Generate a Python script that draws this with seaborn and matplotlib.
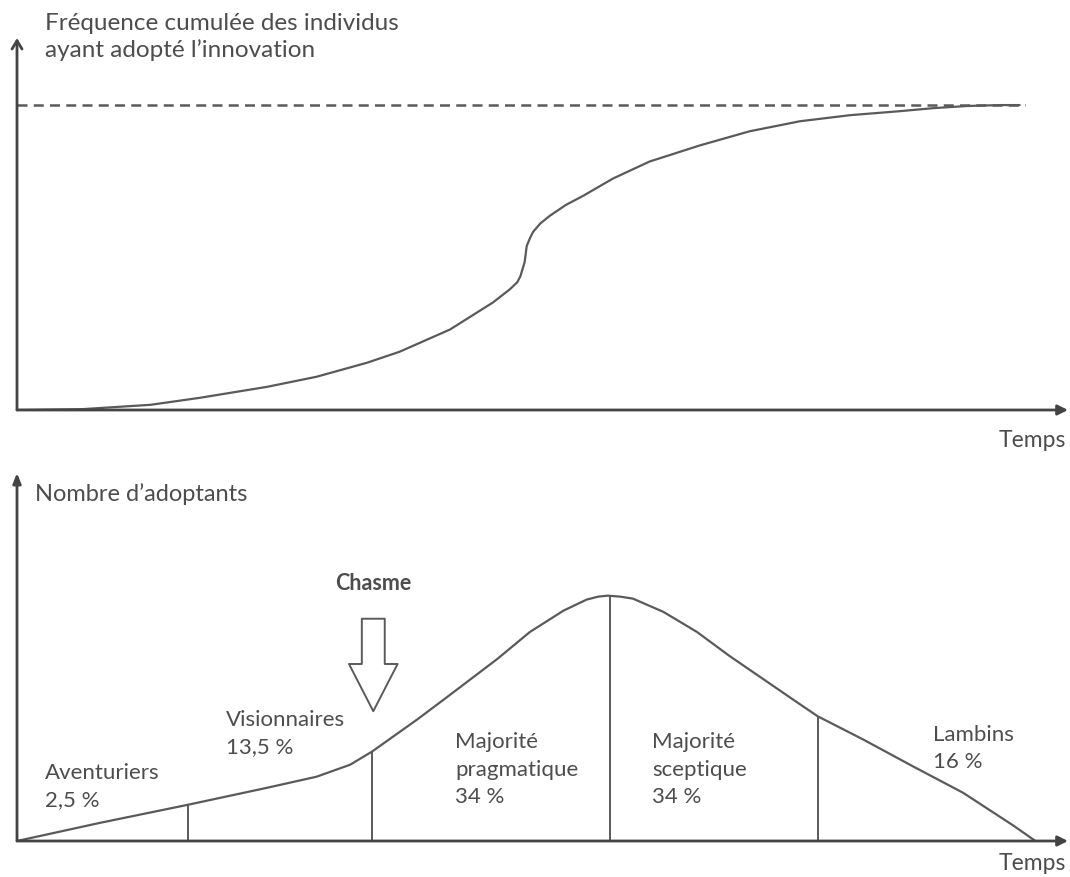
import numpy as np
import pandas as pd
import seaborn as sns
import matplotlib.pyplot as plt

# courbe cumulée (temps, fréquence en % du total)
temps_cumul = [0, 6.3, 12.7, 17.4, 23.8, 28.5, 33.3, 36.4, 41.2, 45.3, 46.9, 47.6,
               47.9, 48.1, 48.3, 48.5, 48.8, 49.1, 49.8, 50.7, 52.2, 53.9, 56.7,
               60.2, 65.0, 69.7, 74.5, 79.3, 84.0, 87.2, 90.4, 93.5, 95.4]
freq_cumul = [0, 0.3, 1.7, 4.0, 7.6, 10.9, 15.5, 19.1, 26.4, 35.3, 39.6, 41.9,
              43.9, 46.2, 48.5, 53.8, 56.3, 58.4, 61.2, 63.7, 67.2, 70.3, 75.9,
              81.5, 86.8, 91.4, 94.7, 96.7, 98.0, 99.0, 99.7, 100, 100]

# courbe des adoptants (temps, nombre relatif au pic)
temps_adopt = [0, 7.9, 16.3, 23.8, 28.5, 31.7, 33.8, 35.8, 38.1, 40.9, 45.7, 48.8,
               52.0, 54.2, 55.3, 56.2, 57.4, 58.6, 61.5, 64.7, 67.8, 71.0, 74.2,
               76.2, 80.5, 85.3, 90.0, 94.8, 96.9]
nb_adopt = [0, 7.4, 14.8, 21.7, 26.2, 31.1, 36.5, 42.6, 49.6, 58.6, 74.2, 85.2,
            93.9, 98.4, 99.6, 100, 99.6, 98.8, 93.4, 85.2, 75.4, 66.0, 56.6,
            50.8, 41.4, 30.3, 19.7, 6.3, 0]

# séparations entre catégories
sep_temps = [16.3, 33.8, 56.4, 76.2]
sep_haut = [14.8, 36.5, 100, 50.8]

categories = ["Aventuriers\n2,5 %", "Visionnaires\n13,5 %",
              "Majorité\npragmatique\n34 %", "Majorité\nsceptique\n34 %",
              "Lambins\n16 %"]
cat_x = [2.7, 19.9, 41.7, 60.4, 87.2]
cat_y = [22.1, 43.9, 29.1, 29.1, 37.7]

sns.set_theme(style='white')
plt.rcParams['font.family'] = ['Lato', 'DejaVu Sans']

gris = '#5a5a5a'
texte = '#4d4d4d'
W, H = 1070, 877

fig = plt.figure(figsize=(10.7, 8.77), dpi=100)

def px_axes(x0, x1, ybas, yhaut):
    return fig.add_axes([x0 / W, (H - ybas) / H, (x1 - x0) / W, (ybas - yhaut) / H])

def axes_fleches(ax, style_y):
    for s in ax.spines.values():
        s.set_visible(False)
    ax.set_xticks([])
    ax.set_yticks([])
    ax.annotate('', xy=(1, 0), xytext=(0, 0), xycoords='axes fraction',
                arrowprops=dict(arrowstyle='-|>,head_length=0.5,head_width=0.25',
                                color='#444444', lw=2, shrinkA=0, shrinkB=0))
    ax.annotate('', xy=(0, 1), xytext=(0, 0), xycoords='axes fraction',
                arrowprops=dict(arrowstyle=style_y, color='#444444', lw=2,
                                shrinkA=0, shrinkB=0))

# --- haut : courbe cumulée
ax1 = px_axes(17, 1068, 410, 38)
ax1.set_facecolor('none')
df1 = pd.DataFrame({'temps': temps_cumul, 'freq': freq_cumul})
sns.lineplot(data=df1, x='temps', y='freq', ax=ax1, color=gris, lw=1.6, sort=False)
ax1.plot([0, 95.9], [100, 100], ls=(0, (4, 2.5)), color=gris, lw=1.8)
ax1.set_xlim(0, 100)
ax1.set_ylim(0, 122)
ax1.set_xlabel('')
ax1.set_ylabel('')
axes_fleches(ax1, '->,head_length=0.5,head_width=0.3')

# --- bas : nombre d'adoptants
ax2 = px_axes(17, 1068, 841, 473)
ax2.set_facecolor('none')
df2 = pd.DataFrame({'temps': temps_adopt, 'nb': nb_adopt})
sns.lineplot(data=df2, x='temps', y='nb', ax=ax2, color=gris, lw=1.6, sort=False)
ax2.vlines(sep_temps, 0, sep_haut, color=gris, lw=1.4)
ax2.set_xlim(0, 100)
ax2.set_ylim(0, 150)
ax2.set_xlabel('')
ax2.set_ylabel('')
axes_fleches(ax2, '-|>,head_length=0.5,head_width=0.2')

for lab, x, y in zip(categories, cat_x, cat_y):
    ax2.text(x, y, lab, ha='left', va='center', fontsize=16, color=texte,
             linespacing=1.45)

ax2.text(33.9, 104.9, 'Chasme', ha='center', va='center', fontsize=15.5,
         fontweight='bold', color=texte)
ax2.annotate('', xy=(33.9, 52.9), xytext=(33.9, 90.6),
             arrowprops=dict(arrowstyle='simple,head_length=3.4,head_width=3.5,tail_width=1.65',
                             mutation_scale=10, fc='white', ec=gris, lw=1.4,
                             shrinkA=0, shrinkB=0))

# titres des axes
fig.text(45 / W, 1 - 37 / H, 'Fréquence cumulée des individus\nayant adopté l’innovation',
         ha='left', va='center', fontsize=17.5, color=texte, linespacing=1.3)
fig.text(35 / W, 1 - 494 / H, 'Nombre d’adoptants', ha='left', va='center',
         fontsize=17, color=texte)
fig.text(1066 / W, 1 - 440 / H, 'Temps', ha='right', va='center', fontsize=16.5, color=texte)
fig.text(1066 / W, 1 - 864 / H, 'Temps', ha='right', va='center', fontsize=16.5, color=texte)

fig.savefig('out.png', dpi=100, facecolor='white')
